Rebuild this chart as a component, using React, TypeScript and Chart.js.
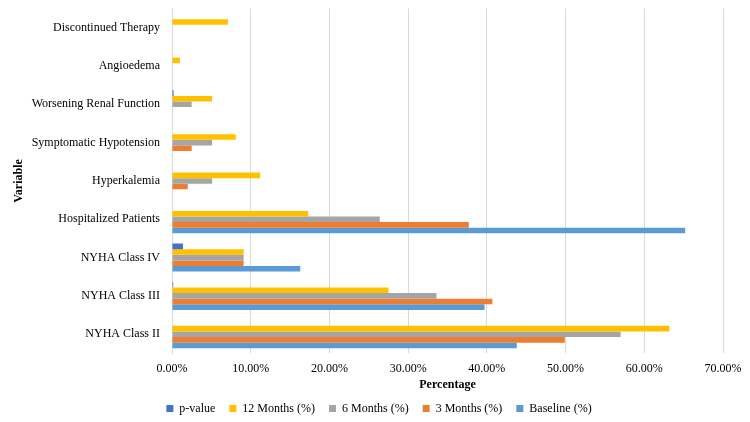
import { useEffect, useRef } from 'react';
import { Chart, registerables } from 'chart.js';

Chart.register(...registerables);

// Categories, top to bottom
const categories = [
  'Discontinued Therapy',
  'Angioedema',
  'Worsening Renal Function',
  'Symptomatic Hypotension',
  'Hyperkalemia',
  'Hospitalized Patients',
  'NYHA Class IV',
  'NYHA Class III',
  'NYHA Class II',
];

// Values in percent
const pValue = [0, 0, 0.2, 0, 0, 0, 1.4, 0.15, 0];
const months12 = [7.1, 1.0, 5.1, 8.1, 11.2, 17.3, 9.1, 27.5, 63.2];
const months6 = [0, 0, 2.5, 5.1, 5.1, 26.4, 9.1, 33.6, 57.0];
const months3 = [0, 0, 0, 2.5, 2.0, 37.7, 9.1, 40.7, 49.9];
const baseline = [0, 0, 0, 0, 0, 65.2, 16.3, 39.7, 43.8];

const seriesNames = ['p-value', '12 Months (%)', '6 Months (%)', '3 Months (%)', 'Baseline (%)'];
const seriesColors = ['#4472C4', '#FFC000', '#A5A5A5', '#ED7D31', '#5B9BD5'];
const seriesData = [pValue, months12, months6, months3, baseline];

const xMin = 0;
const xMax = 70;
const xStep = 10;

const FONT = 'Liberation Serif';

const legendShift = {
  id: 'legendShift',
  afterLayout(chart: any) {
    const l = chart.legend;
    if (l) {
      const shift = 17.5;
      l.left = 0 + shift;
      l.right = 723 + shift;
      const top = 388.5;
      l.top = top;
      l.bottom = top + l.height;
    }
  },
};

export default function App() {
  const ref = useRef<HTMLCanvasElement>(null);

  useEffect(() => {
    const chart = new Chart(ref.current!, {
      type: 'bar',
      data: {
        labels: categories,
        datasets: seriesNames.map((name, i) => ({
          label: name,
          data: seriesData[i],
          backgroundColor: seriesColors[i],
          borderWidth: 0,
          barPercentage: 1.0,
          categoryPercentage: 0.73,
        })),
      },
      options: {
        indexAxis: 'y',
        responsive: false,
        animation: false,
        layout: { padding: { left: 0, right: 27, top: 8.5, bottom: -6.6 } },
        scales: {
          x: {
            min: xMin,
            max: xMax,
            ticks: {
              stepSize: xStep,
              padding: 8,
              color: '#000',
              font: { family: FONT, size: 12 },
              callback: (v: any) => Number(v).toFixed(2) + '%',
            },
            grid: { color: '#D9D9D9', drawTicks: false, lineWidth: 1 },
            border: { display: false },
            title: {
              display: true,
              text: 'Percentage',
              color: '#000',
              font: { family: FONT, size: 12, weight: 'bold' },
              padding: { top: 0, bottom: 0 },
            },
            afterFit: (scale: any) => {
              scale.height = 39.2;
            },
          },
          y: {
            ticks: {
              padding: 12,
              color: '#000',
              autoSkip: false,
              font: { family: FONT, size: 12 },
            },
            grid: { display: false, drawTicks: false },
            border: { display: true, color: '#D9D9D9' },
            title: {
              display: true,
              text: 'Variable',
              color: '#000',
              font: { family: FONT, size: 12, weight: 'bold' },
              padding: { top: 11.5, bottom: 0 },
            },
            afterFit: (scale: any) => {
              scale.width = 172;
              scale.paddingTop = 0;
              scale.paddingBottom = 0;
            },
          },
        },
        plugins: {
          legend: {
            position: 'bottom',
            labels: {
              boxWidth: 7,
              boxHeight: 7,
              padding: 14,
              color: '#000',
              font: { family: FONT, size: 12 },
            },
          },
          tooltip: { enabled: false },
        },
      },
      plugins: [legendShift],
    } as any);
    return () => chart.destroy();
  }, []);

  return (
    <div style={{ position: 'absolute', left: 0, top: 0, width: 750, height: 422, background: '#fff' }}>
      <canvas ref={ref} width={750} height={422} style={{ display: 'block' }} />
    </div>
  );
}
